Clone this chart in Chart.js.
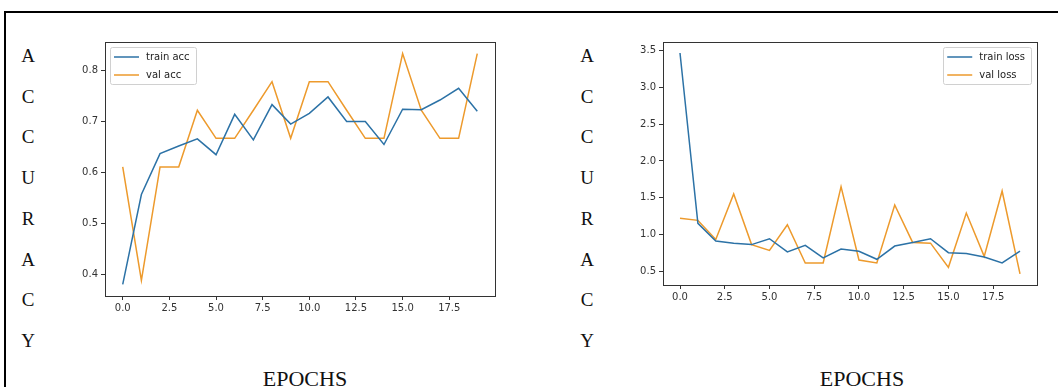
<!DOCTYPE html>
<html>
<head>
<meta charset="utf-8">
<script src="https://cdn.jsdelivr.net/npm/chart.js@4.4.1/dist/chart.umd.min.js"></script>
<style>
body { margin:0; width:1058px; height:387px; background:#fff; overflow:hidden; position:relative; }
.frame { position:absolute; left:4px; top:11px; width:1070px; height:400px; border-top:2px solid #000; border-left:2px solid #000; }
.letters { position:absolute; top:36px; width:30px; text-align:center; font-family:'Liberation Serif', serif; font-size:19px; line-height:40.7px; color:#111; }
.xname { position:absolute; top:368px; width:200px; text-align:center; font-family:'Liberation Serif', serif; font-size:22px; line-height:22px; color:#111; }
canvas { position:absolute; }
</style>
</head>
<body>
<div class="frame"></div>
<div class="letters" style="left:13px">A<br>C<br>C<br>U<br>R<br>A<br>C<br>Y</div>
<div class="letters" style="left:572px">A<br>C<br>C<br>U<br>R<br>A<br>C<br>Y</div>
<div class="xname" style="left:205px">EPOCHS</div>
<div class="xname" style="left:762px">EPOCHS</div>
<canvas id="acc" width="450" height="300" style="left:60px;top:30px"></canvas>
<canvas id="loss" width="430" height="280" style="left:620px;top:30px"></canvas>
<script>
// dados
const epochs = [0, 1, 2, 3, 4, 5, 6, 7, 8, 9, 10, 11, 12, 13, 14, 15, 16, 17, 18, 19]
const trainAcc = [0.381, 0.557, 0.637, 0.652, 0.666, 0.635, 0.714, 0.664, 0.733, 0.695, 0.716, 0.748, 0.700, 0.700, 0.655, 0.724, 0.723, 0.742, 0.765, 0.720]
const valAcc = [0.611, 0.389, 0.611, 0.611, 0.722, 0.667, 0.667, 0.722, 0.778, 0.667, 0.778, 0.778, 0.722, 0.667, 0.667, 0.833, 0.722, 0.667, 0.667, 0.833]
const trainLoss = [3.47, 1.15, 0.91, 0.88, 0.86, 0.94, 0.76, 0.85, 0.68, 0.80, 0.77, 0.66, 0.84, 0.89, 0.94, 0.75, 0.74, 0.69, 0.61, 0.77]
const valLoss = [1.22, 1.19, 0.93, 1.55, 0.86, 0.78, 1.13, 0.61, 0.61, 1.65, 0.65, 0.61, 1.40, 0.89, 0.88, 0.55, 1.29, 0.70, 1.59, 0.46]
const xTicks = [0, 2.5, 5, 7.5, 10, 12.5, 15, 17.5]
const accTicks = [0.4, 0.5, 0.6, 0.7, 0.8]
const lossTicks = [0.5, 1.0, 1.5, 2.0, 2.5, 3.0, 3.5]

const blue = '#2c72a6'
const orange = '#ed9a2c'
const axisColor = '#333'
const tickFont = { family: 'DejaVu Sans', size: 10 }

// caixa em volta da area do grafico (estilo matplotlib)
const boxPlugin = {
    id: 'box',
    afterDraw(chart) {
        const a = chart.chartArea
        const ctx = chart.ctx
        ctx.save()
        ctx.strokeStyle = axisColor
        ctx.lineWidth = 1
        ctx.strokeRect(Math.round(a.left) + 0.5, Math.round(a.top) + 0.5, Math.round(a.right - a.left), Math.round(a.bottom - a.top))
        ctx.restore()
    }
}

// legenda desenhada dentro da area
const legendPlugin = {
    id: 'innerLegend',
    afterDraw(chart, args, opts) {
        const a = chart.chartArea
        const ctx = chart.ctx
        const sets = chart.data.datasets
        ctx.save()
        ctx.font = '10px "DejaVu Sans"'
        const tw = Math.max(...sets.map(d => ctx.measureText(d.label).width))
        const w = 4 + 25 + 7 + tw + 6
        const h = 37
        const x = opts.side === 'right' ? a.right - 6 - w : a.left + 5
        const y = a.top + 5
        ctx.fillStyle = 'rgba(255,255,255,0.85)'
        ctx.strokeStyle = '#d0d0d0'
        ctx.lineWidth = 1
        ctx.beginPath()
        ctx.roundRect(Math.round(x) + 0.5, Math.round(y) + 0.5, Math.round(w), h, 2)
        ctx.fill()
        ctx.stroke()
        sets.forEach((d, i) => {
            const cy = y + 10 + i * 18
            ctx.strokeStyle = d.borderColor
            ctx.lineWidth = 1.5
            ctx.beginPath()
            ctx.moveTo(x + 4, cy)
            ctx.lineTo(x + 29, cy)
            ctx.stroke()
            ctx.fillStyle = '#222'
            ctx.textBaseline = 'middle'
            ctx.fillText(d.label, x + 36, cy)
        })
        ctx.restore()
    }
}

function makeChart(id, labels, series, yTicks, pad, side) {
    const all = series.flat()
    const lo = Math.min(...all)
    const hi = Math.max(...all)
    const m = (hi - lo) * 0.05
    const xm = (epochs[epochs.length - 1] - epochs[0]) * 0.05
    return new Chart(document.getElementById(id).getContext('2d'), {
        type: 'line',
        data: {
            datasets: series.map((s, i) => ({
                label: labels[i],
                data: s.map((v, j) => ({ x: epochs[j], y: v })),
                borderColor: i === 0 ? blue : orange,
                borderWidth: 1.5,
                pointRadius: 0,
                tension: 0
            }))
        },
        options: {
            responsive: false,
            animation: false,
            devicePixelRatio: 1,
            layout: { padding: pad },
            plugins: {
                legend: { display: false },
                tooltip: { enabled: false },
                innerLegend: { side: side }
            },
            scales: {
                x: {
                    type: 'linear',
                    min: epochs[0] - xm,
                    max: epochs[epochs.length - 1] + xm,
                    afterBuildTicks: axis => { axis.ticks = xTicks.map(v => ({ value: v })) },
                    afterFit: scale => { scale.height = 25 },
                    grid: { drawOnChartArea: false, drawTicks: true, tickLength: 4, tickColor: axisColor },
                    border: { color: axisColor, width: 1 },
                    ticks: { color: '#333', font: tickFont, padding: 2, maxRotation: 0, callback: v => v.toFixed(1) }
                },
                y: {
                    min: lo - m,
                    max: hi + m,
                    afterBuildTicks: axis => { axis.ticks = yTicks.map(v => ({ value: v })) },
                    afterFit: scale => { scale.width = 40 },
                    grid: { drawOnChartArea: false, drawTicks: true, tickLength: 4, tickColor: axisColor },
                    border: { color: axisColor, width: 1 },
                    ticks: { color: '#333', font: tickFont, padding: 3, callback: v => v.toFixed(1) }
                }
            }
        },
        plugins: [boxPlugin, legendPlugin]
    })
}

makeChart('acc', ['train acc', 'val acc'], [trainAcc, valAcc], accTicks, { left: 5, right: 15, top: 12, bottom: 9 }, 'left')
makeChart('loss', ['train loss', 'val loss'], [trainLoss, valLoss], lossTicks, { left: 3, right: 13, top: 12, bottom: 0 }, 'right')
</script>
</body>
</html>
